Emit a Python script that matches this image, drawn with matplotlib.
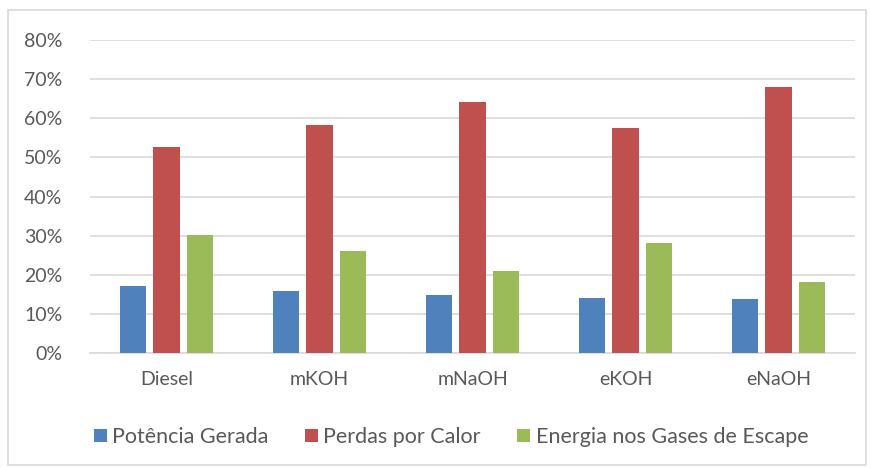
import numpy as np
import matplotlib
matplotlib.use('Agg')
import matplotlib.pyplot as plt
from matplotlib.patches import Rectangle
from matplotlib.ticker import FuncFormatter

# Energy balance per fuel
categories = ['Diesel', 'mKOH', 'mNaOH', 'eKOH', 'eNaOH']
potencia = [17.2, 15.9, 14.8, 14.1, 13.7]
perdas = [52.6, 58.2, 64.1, 57.6, 68.1]
gases = [30.1, 26.0, 21.0, 28.1, 18.2]
series_names = ['Potência Gerada', 'Perdas por Calor', 'Energia nos Gases de Escape']
colors = ['#4F81BD', '#C0504D', '#9BBB59']

plt.rcParams['font.family'] = ['Lato', 'DejaVu Sans']
text_color = '#595959'

fig = plt.figure(figsize=(8.71, 4.68), dpi=100)
ax = fig.add_axes([90 / 871, 1 - 353 / 468, 765 / 871, 313 / 468])

x = np.arange(len(categories))
width = 0.17
step = 0.22
for i, (vals, name, c) in enumerate(zip([potencia, perdas, gases], series_names, colors)):
    ax.bar(x + (i - 1) * step, vals, width, color=c, label=name, zorder=3)

ax.set_xlim(-0.5, len(categories) - 0.5)
ax.set_ylim(0, 80)
ax.set_yticks(np.arange(0, 81, 10))
ax.yaxis.set_major_formatter(FuncFormatter(lambda v, p: '%d%%' % v))
ax.set_xticks(x)
ax.set_xticklabels(categories)
ax.grid(axis='y', color='#D9D9D9', linewidth=1.2, zorder=0)
ax.tick_params(length=0, labelsize=14, colors=text_color)
ax.tick_params(axis='x', pad=13)
ax.tick_params(axis='y', pad=20)
for s in ['top', 'right', 'left']:
    ax.spines[s].set_visible(False)
ax.spines['bottom'].set_color('#D9D9D9')
ax.spines['bottom'].set_linewidth(1.2)

leg = fig.legend(loc='center', bbox_to_anchor=(451 / 871, 1 - 437 / 468), ncol=3,
                 frameon=False, fontsize=15.5, handlelength=0.6, handleheight=0.6,
                 handletextpad=0.25, columnspacing=1.7)
for t in leg.get_texts():
    t.set_color(text_color)

# chart border
fig.patches.append(Rectangle((8 / 871, 3 / 468), 858 / 871, 455 / 468,
                             transform=fig.transFigure, fill=False,
                             edgecolor='#D9D9D9', linewidth=1.2))

fig.savefig('out.png', dpi=100)
